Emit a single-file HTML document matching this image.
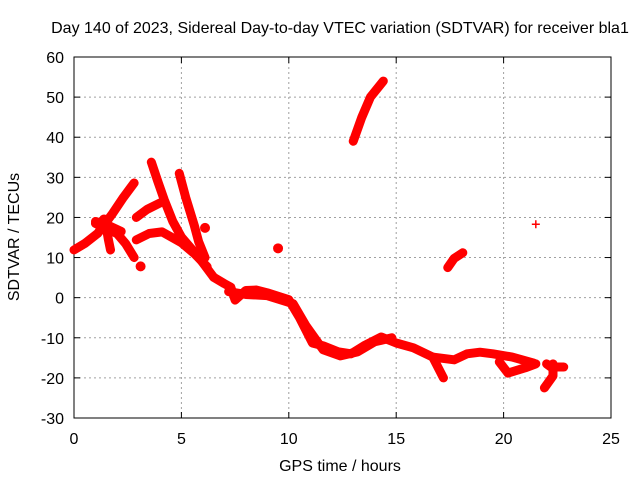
<!DOCTYPE html>
<html><head><meta charset="utf-8"><style>
body{margin:0;background:#fff}
svg text{font-family:"Liberation Sans",sans-serif;font-size:16px;fill:#000}
</style></head><body>
<svg id="c" width="640" height="480"></svg>
<script>
const xTicks=[0,5,10,15,20,25];
const yTicks=[-30,-20,-10,0,10,20,30,40,50,60];
// tracks: arrays of [hour, TECU]
const trackA=[[0,11.9],[0.5,13.5],[1.1,16],[1.8,21],[2.3,25],[2.8,28.6]];
const trackB=[[1.5,17.6],[1.6,14.5],[1.7,11.9]];
const trackC=[[1.0,18.5],[2.0,16],[2.4,13.5],[2.8,10]];
const trackD=[[3.6,33.8],[3.9,29],[4.2,24.4],[4.6,19],[5.0,15.1],[5.5,12],[5.9,9.4],[6.5,5.1]];
const trackE=[[4.9,31],[5.2,25],[5.6,18],[5.8,14],[6.1,10]];
const trackF=[[2.9,20],[3.4,22],[4.0,23.6]];
const trackG=[[2.9,14.4],[3.5,16],[4.1,16.4],[5.0,13.7],[5.6,11],[6.2,7.7]];
const trackH=[[1.0,19],[1.6,18],[2.2,16.5]];
const trackL=[[6.5,5.1],[7.0,3.5],[7.3,2.6],[7.5,-0.6],[8.0,1.8],[8.5,1.9],[9.0,1.2],[9.6,0.2],[10.0,-0.5],[10.5,-5],[11.1,-11.3],[11.6,-12],[12.3,-13.5],[12.9,-14],[13.5,-12],[14.3,-9.8],[15.0,-11.3],[15.8,-12.5],[16.7,-14.8],[17.2,-20]];
const trackL2=[[7.2,1.5],[8.0,0.8],[9.0,0.5],[10.2,-1.5],[10.8,-7],[11.6,-13],[12.4,-14.5],[13.2,-13.5],[14.0,-11],[14.8,-10]];
const trackM=[[16.7,-14.8],[17.7,-15.5],[18.3,-14],[18.9,-13.6],[19.5,-14],[20.4,-14.8],[21.4,-16.3]];
const trackN=[[19.8,-16],[20.2,-18.8],[21.0,-17.5],[21.5,-16.5]];
const trackP=[[22.0,-16.5],[22.2,-17.3],[22.8,-17.3]];
const trackQ=[[21.9,-22.5],[22.3,-19.5],[22.3,-16.5]];
const trackR=[[13.0,39],[13.4,45],[13.8,50],[14.4,54]];
const trackS=[[17.4,7.5],[17.7,9.8],[18.1,11.2]];
const blobs=[[3.1,7.8],[6.1,17.4],[9.5,12.3],[1.4,19.5]];
const singles=[[21.5,18.3]];
const tracks=[trackA,trackB,trackC,trackD,trackE,trackF,trackG,trackH,trackL,trackL2,trackM,trackN,trackP,trackQ,trackR,trackS];

const L=74,R=611,T=57,B=418;
const X=v=>L+(v-0)/25*(R-L);
const Y=v=>B-(v+30)/90*(B-T);
const svg=document.getElementById('c');
const NS='http://www.w3.org/2000/svg';
function mk(t,a){const e=document.createElementNS(NS,t);for(const k in a)e.setAttribute(k,a[k]);svg.appendChild(e);return e;}
for(const t of xTicks){
 if(t>0&&t<25){const g=mk('line',{x1:X(t),x2:X(t),y1:T,y2:B,stroke:'#a0a0a0','stroke-dasharray':'2,3'});
 
 }
 mk('line',{x1:X(t),x2:X(t),y1:B,y2:B-6,stroke:'#000'});
 mk('line',{x1:X(t),x2:X(t),y1:T,y2:T+6,stroke:'#000'});
 const tx=mk('text',{x:X(t),y:B+26,'text-anchor':'middle'});tx.textContent=t;
 
 
}
for(const t of yTicks){
 if(t>-30&&t<60){const g=mk('line',{x1:L,x2:R,y1:Y(t),y2:Y(t),stroke:'#a0a0a0','stroke-dasharray':'2,3'});
 
 }
 mk('line',{x1:L,x2:L+6,y1:Y(t),y2:Y(t),stroke:'#000'});
 mk('line',{x1:R,x2:R-6,y1:Y(t),y2:Y(t),stroke:'#000'});
 const tx=mk('text',{x:L-10,y:Y(t)+6,'text-anchor':'end'});tx.textContent=t;
 
 
}
const fr=mk('rect',{x:L,y:T,width:R-L,height:B-T,fill:'none',stroke:'#000'});


for(const tr of tracks){
 const p=mk('polyline',{points:tr.map(d=>X(d[0])+','+Y(d[1])).join(' '),fill:'none',stroke:'#ff0000','stroke-width':9,'stroke-linejoin':'round','stroke-linecap':'round'});
 
 
}
for(const d of blobs){
 const c=mk('circle',{cx:X(d[0]),cy:Y(d[1]),r:5,fill:'#ff0000'});
 
 
}
for(const d of tracks.flat().concat(singles)){
 const x=X(d[0]),y=Y(d[1]);
 const p=mk('path',{d:`M${x-4},${y}h8M${x},${y-4}v8`,stroke:'#ff0000','stroke-width':1.5});
 
 
}
const t1=mk('text',{x:340,y:33,'text-anchor':'middle'});t1.textContent='Day 140 of 2023, Sidereal Day-to-day VTEC variation (SDTVAR) for receiver bla1';


const t2=mk('text',{x:340,y:471,'text-anchor':'middle'});t2.textContent='GPS time / hours';


const t3=mk('text',{x:19,y:237,'text-anchor':'middle',transform:'rotate(-90 19 237)'});t3.textContent='SDTVAR / TECUs';


</script>
</body></html>
